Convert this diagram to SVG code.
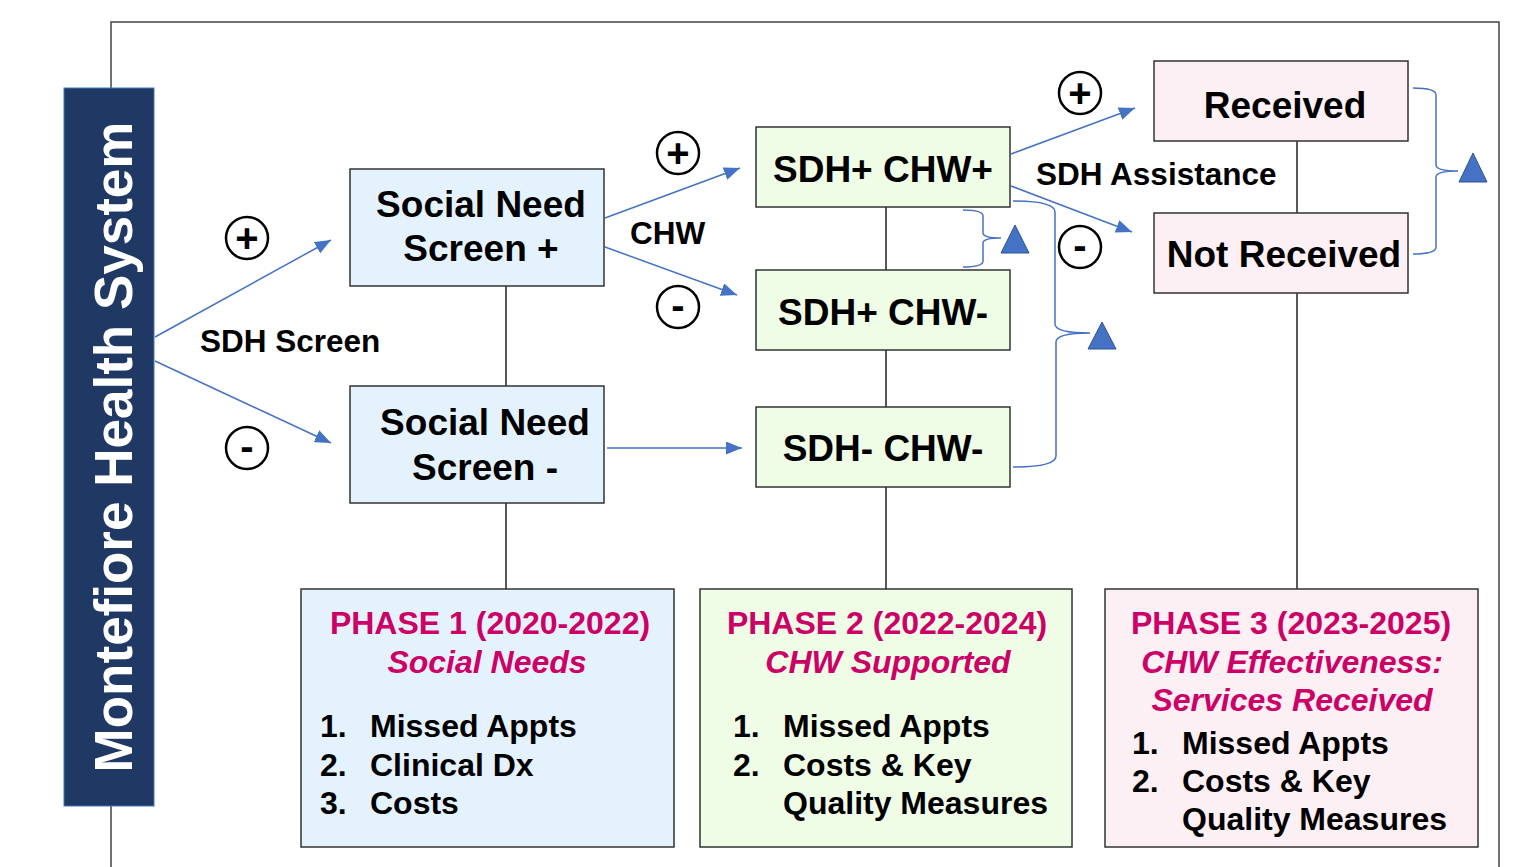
<svg xmlns="http://www.w3.org/2000/svg" width="1513" height="867" viewBox="0 0 1513 867">
<style>
.t{font-family:"Liberation Sans",Arial,sans-serif;font-weight:bold;fill:#000}
.nd{stroke:#333;stroke-width:1.5}
.blue{fill:#e4f2fd}.green{fill:#effde6}.pink{fill:#fdf0f4}
.ph{font-family:"Liberation Sans",Arial,sans-serif;font-weight:bold;fill:#cc0066;font-size:32px;text-anchor:middle}
.it{font-style:italic}
.li{font-family:"Liberation Sans",Arial,sans-serif;font-weight:bold;fill:#000;font-size:32px}
.ln{stroke:#222;stroke-width:1.5;fill:none}
.ar{stroke:#4472c4;stroke-width:1.5;fill:none;marker-end:url(#ah)}
.br{stroke:#4472c4;stroke-width:1.5;fill:none}
.tri{fill:#4472c4;stroke:#2f528f;stroke-width:1}
.sym{fill:#fff;stroke:#000;stroke-width:2.5}
.pm{font-family:"Liberation Sans",Arial,sans-serif;font-weight:bold;fill:#000;text-anchor:middle}
</style>
<defs>
<marker id="ah" markerWidth="16" markerHeight="13" refX="16" refY="6.5" orient="auto" markerUnits="userSpaceOnUse" viewBox="0 0 16 13">
<path d="M0,0 L16,6.5 L0,13 z" fill="#4472c4"/>
</marker>
</defs>
<rect width="1513" height="867" fill="#fff"/>
<path d="M111,867 V22 H1499 V867" fill="none" stroke="#444" stroke-width="1.5"/>

<g id="montefiore">
<rect x="64" y="88" width="90" height="718" fill="#203864" stroke="#4472c4" stroke-width="1"/>
<text class="t" transform="translate(132,447) rotate(-90)" text-anchor="middle" font-size="53" style="fill:#fff">Montefiore Health System</text>
</g>

<g id="connectors">
<path class="ln" d="M506,286 V386 M506,503 V589 M886,207 V270 M886,350 V407 M886,487 V589 M1297,141 V213 M1297,293 V589"/>
<line class="ar" x1="155" y1="337" x2="331" y2="240"/>
<line class="ar" x1="155" y1="361" x2="331" y2="443"/>
<line class="ar" x1="605" y1="218" x2="740" y2="168"/>
<line class="ar" x1="605" y1="247" x2="737" y2="295"/>
<line class="ar" x1="607" y1="448" x2="742" y2="448"/>
<line class="ar" x1="1011" y1="154" x2="1135" y2="108"/>
<line class="ar" x1="1011" y1="186" x2="1132" y2="232"/>
<path class="br" d="M963,210 Q983,210 983,216 V233 Q983,238 1001,238 Q983,238 983,243 V261 Q983,267 963,267"/>
<path class="br" d="M1013,201 Q1055,201 1055,212 V324 Q1055,333 1090,333 Q1056,333 1056,342 V456 Q1056,467 1013,467"/>
<path class="br" d="M1413,88 Q1436,88 1436,95 V165 Q1436,171 1458,171 Q1436,171 1436,177 V247 Q1436,254 1413,254"/>
</g>

<g id="triangles">
<polygon class="tri" points="1015,225 1029,253 1001,253"/>
<polygon class="tri" points="1102,322 1116,349 1088,349"/>
<polygon class="tri" points="1473,153 1487,182 1459,182"/>
</g>

<g id="symbols">
<circle class="sym" cx="247" cy="238" r="21"/><text class="pm" x="247" y="252" font-size="40">+</text>
<circle class="sym" cx="247" cy="448" r="21"/><text class="pm" x="247" y="460" font-size="40">-</text>
<circle class="sym" cx="678" cy="153" r="21"/><text class="pm" x="678" y="167" font-size="40">+</text>
<circle class="sym" cx="678" cy="307" r="21"/><text class="pm" x="678" y="319" font-size="40">-</text>
<circle class="sym" cx="1080" cy="93" r="21"/><text class="pm" x="1080" y="107" font-size="40">+</text>
<circle class="sym" cx="1080" cy="247" r="21"/><text class="pm" x="1080" y="259" font-size="40">-</text>
</g>

<g id="labels">
<text class="t" x="200" y="352" font-size="31.5">SDH Screen</text>
<text class="t" x="630" y="244" font-size="31.5">CHW</text>
<text class="t" x="1036" y="185" font-size="31.5">SDH Assistance</text>
</g>

<g id="sn-plus">
<rect class="nd blue" x="350" y="169" width="254" height="117"/>
<text class="t" x="481" y="217" font-size="37" text-anchor="middle">Social Need</text>
<text class="t" x="481" y="261" font-size="37" text-anchor="middle">Screen +</text>
</g>
<g id="sn-minus">
<rect class="nd blue" x="350" y="386" width="254" height="117"/>
<text class="t" x="485" y="435" font-size="37" text-anchor="middle">Social Need</text>
<text class="t" x="485" y="480" font-size="37" text-anchor="middle">Screen -</text>
</g>
<g id="sdhp-chwp">
<rect class="nd green" x="756" y="127" width="254" height="80"/>
<text class="t" x="883" y="182" font-size="37" text-anchor="middle">SDH+ CHW+</text>
</g>
<g id="sdhp-chwm">
<rect class="nd green" x="756" y="270" width="254" height="80"/>
<text class="t" x="883" y="325" font-size="37" text-anchor="middle">SDH+ CHW-</text>
</g>
<g id="sdhm-chwm">
<rect class="nd green" x="756" y="407" width="254" height="80"/>
<text class="t" x="883" y="461" font-size="37" text-anchor="middle">SDH- CHW-</text>
</g>
<g id="received">
<rect class="nd pink" x="1154" y="61" width="254" height="80"/>
<text class="t" x="1285" y="118" font-size="37" text-anchor="middle">Received</text>
</g>
<g id="not-received">
<rect class="nd pink" x="1154" y="213" width="254" height="80"/>
<text class="t" x="1284" y="267" font-size="37" text-anchor="middle">Not Received</text>
</g>

<g id="phase1">
<rect class="nd blue" x="301" y="589" width="373" height="258"/>
<text class="ph" x="490" y="634">PHASE 1 (2020-2022)</text>
<text class="ph it" x="487" y="673">Social Needs</text>
<text class="li" x="320" y="737">1.</text><text class="li" x="370" y="737">Missed Appts</text>
<text class="li" x="320" y="776">2.</text><text class="li" x="370" y="776">Clinical Dx</text>
<text class="li" x="320" y="814">3.</text><text class="li" x="370" y="814">Costs</text>
</g>
<g id="phase2">
<rect class="nd green" x="700" y="589" width="372" height="258"/>
<text class="ph" x="887" y="634">PHASE 2 (2022-2024)</text>
<text class="ph it" x="888" y="673">CHW Supported</text>
<text class="li" x="733" y="737">1.</text><text class="li" x="783" y="737">Missed Appts</text>
<text class="li" x="733" y="776">2.</text><text class="li" x="783" y="776">Costs &amp; Key</text>
<text class="li" x="783" y="814">Quality Measures</text>
</g>
<g id="phase3">
<rect class="nd pink" x="1105" y="589" width="373" height="258"/>
<text class="ph" x="1291" y="634">PHASE 3 (2023-2025)</text>
<text class="ph it" x="1292" y="673">CHW Effectiveness:</text>
<text class="ph it" x="1292" y="711">Services Received</text>
<text class="li" x="1132" y="754">1.</text><text class="li" x="1182" y="754">Missed Appts</text>
<text class="li" x="1132" y="792">2.</text><text class="li" x="1182" y="792">Costs &amp; Key</text>
<text class="li" x="1182" y="830">Quality Measures</text>
</g>
</svg>
